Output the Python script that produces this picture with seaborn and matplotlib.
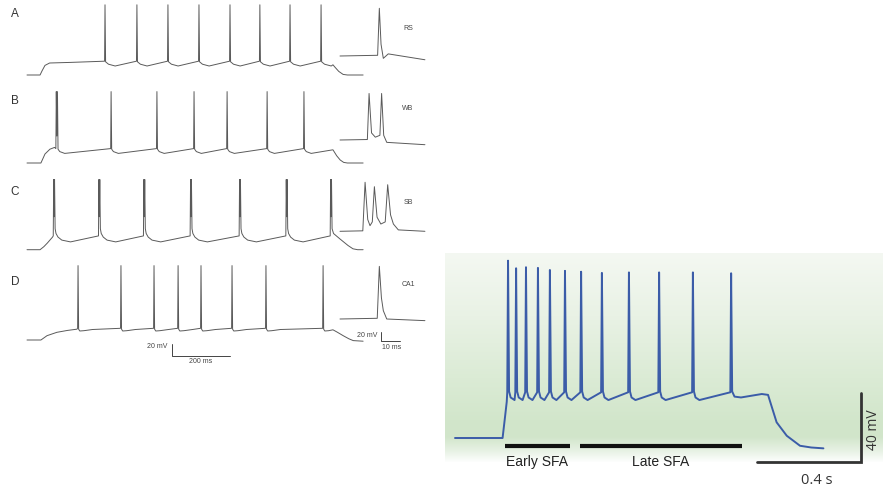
import numpy as np
import pandas as pd
import matplotlib.pyplot as plt
import seaborn as sns
from matplotlib.colors import LinearSegmentedColormap

W, H = 883, 489

# ---------------- data: time in ms, membrane potential in mV ----------------
# A  regular spiking (RS)
rs_onset_t = [0, 45, 52, 62, 78, 150]
rs_onset_v = [-65, -65, -58, -49, -45, -44]
rs_spikes = [269, 379, 486, 593, 700, 803, 907, 1014]
rs_peak = 52
rs_thr = -42
rs_after_dt = [2, 12, 35]
rs_after_v = [-43, -47, -50]
rs_off_t = [1016, 1026, 1049, 1055, 1062, 1075, 1090, 1105, 1159]
rs_off_v = [-43, -47, -50, -48, -52, -59, -64, -65, -65]

# B  weakly bursting (WB)
wb_onset_t = [0, 48, 62, 79, 95]
wb_onset_v = [-65, -65, -50, -42, -39]
wb_spikes = [101, 105, 290, 448, 576, 690, 828, 955]
wb_peak = 54
wb_thr = -41
wb_burst_v = -20
wb_after_dt = [2, 8, 25]
wb_after_v = [-42, -46, -49]
wb_off_t = [957, 963, 980, 1055, 1068, 1080, 1092, 1105, 1159]
wb_off_v = [-42, -46, -49, -43, -53, -60, -64, -65, -65]

# C  strongly bursting (SB)
sb_onset_t = [0, 45, 58, 70, 88]
sb_onset_v = [-65, -65, -60, -54, -44]
sb_spikes = [92, 95, 248, 251, 403, 406, 564, 567, 733, 736, 894, 897, 1047, 1050]
sb_peak = 52
sb_thr = -42
sb_burst_v = -10
sb_after_dt = [2, 5, 12, 25, 55]
sb_after_v = [-30, -38, -44, -49, -52]
sb_off_t = [1052, 1057, 1079, 1107, 1124, 1140, 1159]
sb_off_v = [-30, -38, -47, -58, -63.5, -65, -65]

# D  CA1 pyramidal cell
ca_onset_t = [0, 48, 69, 103, 140, 172]
ca_onset_v = [-65, -65, -57.8, -52.2, -49, -47]
ca_spikes = [176, 324, 438, 521, 600, 707, 824, 1021]
ca_peak = 59
ca_thr = -45.5
ca_after_dt = [2, 6, 20, 50]
ca_after_v = [-47, -50, -49.5, -47.5]
ca_off_t = [1023, 1027, 1040, 1055, 1070, 1091, 1110, 1125, 1159]
ca_off_v = [-47, -50, -49.5, -48, -52, -58, -63, -66, -67]

# insets (single action potentials / bursts)
rs_in_t = [0, 19.8, 20.7, 21.6, 22.8, 25.4, 44.7]
rs_in_v = [-65, -63.5, 36.5, -40, -70, -60.5, -73]
wb_in_t = [0, 14.4, 15.3, 16.6, 18.6, 21.0, 21.9, 23.0, 24.6, 44.7]
wb_in_v = [-65, -64, 34, -50, -59, -55, 34, -55, -70, -75]
sb_in_t = [0, 12.0, 13.2, 14.6, 15.8, 17.0, 18.1, 19.5, 21.5, 23.8, 25.1, 26.6, 28.1, 30.7, 44.7]
sb_in_v = [-65, -64, 39.3, -40, -53, -45, 29.9, -35, -49.5, -45, 34.1, -30, -49.5, -62, -65]
ca_in_t = [0, 19.6, 20.7, 21.8, 22.8, 24.6, 44.7]
ca_in_v = [-65, -63.5, 47, -20, -47.3, -65, -68.5]

# right: spike frequency adaptation
sfa_onset_t = [0, 183, 193, 199]
sfa_onset_v = [-65, -65, -52, -44]
sfa_spikes = [204, 235, 273, 319, 365, 423, 485, 565, 669, 785, 915, 1062]
sfa_peaks = [37.8, 33.4, 34.0, 33.6, 32.4, 31.9, 31.4, 30.7, 31.0, 31.0, 31.0, 30.5]
sfa_thr = -38.5
sfa_after_dt = [4, 10, 25]
sfa_after_v = [-38, -41.5, -43]
sfa_off_t = [1066, 1075, 1100, 1140, 1180, 1204, 1217, 1237, 1276, 1327, 1370, 1417]
sfa_off_v = [-38, -41, -41.5, -40.5, -39.5, -40, -46.3, -55.9, -63.7, -69.5, -70.5, -71]
early_sfa = (192, 442)
late_sfa = (481, 1104)


def spike_train(onset_t, onset_v, spikes, peak, thr, after_dt, after_v,
                off_t, off_v, rise=1.5, burst_v=None):
    peaks = np.broadcast_to(peak, len(spikes))
    t, v = list(onset_t), list(onset_v)
    for i, s in enumerate(spikes):
        in_burst = i > 0 and s - spikes[i - 1] < 10
        if not in_burst:
            t.append(s - rise)
            v.append(thr)
        t.append(s)
        v.append(peaks[i])
        if i + 1 == len(spikes):
            break
        nxt = spikes[i + 1]
        if nxt - s < 10:
            t.append((s + nxt) / 2)
            v.append(burst_v)
            continue
        for dt, dv in zip(after_dt, after_v):
            if s + dt < nxt - rise - 2:
                t.append(s + dt)
                v.append(dv)
    t += off_t
    v += off_v
    return pd.DataFrame({"t": t, "v": v})


sns.set_theme(style="white")
plt.rcParams["font.family"] = ["Liberation Sans", "DejaVu Sans"]
fig = plt.figure(figsize=(W / 100, H / 100), dpi=100)


def trace_axes(box, t0_px, base_px, px_ms, px_mv):
    x0, y0, x1, y1 = box
    ax = fig.add_axes([x0 / W, 1 - y1 / H, (x1 - x0) / W, (y1 - y0) / H])
    ax.set_axis_off()
    lims = ((x0 - t0_px) / px_ms, (x1 - t0_px) / px_ms,
            -65 - (y1 - base_px) / px_mv, -65 + (base_px - y0) / px_mv)
    return ax, lims


def draw(ax, lims, df, color="#5a5a5a", lw=0.7):
    sns.lineplot(data=df, x="t", y="v", ax=ax, sort=False, estimator=None,
                 color=color, linewidth=lw)
    ax.set_xlim(lims[0], lims[1])
    ax.set_ylim(lims[2], lims[3])
    ax.set_axis_off()


rows = [
    ("A", (0, 85), 76, 57, 14,
     spike_train(rs_onset_t, rs_onset_v, rs_spikes, rs_peak, rs_thr,
                 rs_after_dt, rs_after_v, rs_off_t, rs_off_v),
     pd.DataFrame({"t": rs_in_t, "v": rs_in_v}), "RS", 28),
    ("B", (85, 175), 164, 141, 100.5,
     spike_train(wb_onset_t, wb_onset_v, wb_spikes, wb_peak, wb_thr,
                 wb_after_dt, wb_after_v, wb_off_t, wb_off_v, burst_v=wb_burst_v),
     pd.DataFrame({"t": wb_in_t, "v": wb_in_v}), "WB", 109),
    ("C", (175, 255), 250.7, 232.3, 192,
     spike_train(sb_onset_t, sb_onset_v, sb_spikes, sb_peak, sb_thr,
                 sb_after_dt, sb_after_v, sb_off_t, sb_off_v, burst_v=sb_burst_v),
     pd.DataFrame({"t": sb_in_t, "v": sb_in_v}), "SB", 203),
    ("D", (255, 370), 341, 320, 282,
     spike_train(ca_onset_t, ca_onset_v, ca_spikes, ca_peak, ca_thr,
                 ca_after_dt, ca_after_v, ca_off_t, ca_off_v),
     pd.DataFrame({"t": ca_in_t, "v": ca_in_v}), "CA1", 284),
]

for letter, (top, bot), base, in_base, ly, main_df, in_df, name, ny in rows:
    ax, lims = trace_axes((20, top, 370, bot), 27, base, 0.29, 0.6)
    draw(ax, lims, main_df)
    axi, limi = trace_axes((335, top, 430, bot), 340, in_base, 1.9, 0.47)
    draw(axi, limi, in_df)
    fig.text(15 / W, 1 - ly / H, letter, fontsize=8.5, color="#333333",
             ha="center", va="center")
    fig.text(408 / W, 1 - ny / H, name, fontsize=5, color="#444444",
             ha="center", va="center")
    if letter == "D":
        # 20 mV / 200 ms scale bar
        ax.plot([500, 500, 700], [-71.7, -91.7, -91.7], color="#444444",
                lw=0.7, clip_on=False)
        ax.text(483, -74.5, "20 mV", fontsize=5, ha="right", va="center",
                color="#444444")
        ax.text(600, -98.5, "200 ms", fontsize=5, ha="center", va="center",
                color="#444444")
        # 20 mV / 10 ms scale bar of the inset
        axi.plot([21.6, 21.6, 31.6], [-91.8, -111.8, -111.8], color="#444444",
                 lw=0.7, clip_on=False)
        axi.text(19.5, -99, "20 mV", fontsize=5, ha="right", va="center",
                 color="#444444")
        axi.text(27.4, -124, "10 ms", fontsize=5, ha="center", va="center",
                 color="#444444")

# ---------------- right panel ----------------
axr, limr = trace_axes((445, 250, 883, 489), 455, 439, 0.26, 1.725)
green = LinearSegmentedColormap.from_list(
    "bg", [(0.0, "#f4f8f2"), (0.3, "#e9f2e5"), (0.6, "#dbebd5"),
           (0.8, "#d2e6cb"), (0.88, "#d1e5ca"), (0.95, "#e8f2e5"),
           (1.0, "#fdfefd")])
axr.imshow(np.linspace(0, 1, 256)[:, None], cmap=green, aspect="auto",
           extent=(limr[0], limr[1], -78.9, 41.7), origin="upper", zorder=0)
sfa_df = spike_train(sfa_onset_t, sfa_onset_v, sfa_spikes, sfa_peaks, sfa_thr,
                     sfa_after_dt, sfa_after_v, sfa_off_t, sfa_off_v, rise=3)
draw(axr, limr, sfa_df, color="#3b5ca8", lw=1.4)

for (a, b), label in [(early_sfa, "Early SFA"), (late_sfa, "Late SFA")]:
    axr.plot([a, b], [-69.5, -69.5], color="#111111", lw=3, solid_capstyle="butt")
    axr.text((a + b) / 2, -78.2, label, fontsize=10, ha="center", va="center",
             color="#222222")

axr.plot([1161.5, 1561.5, 1561.5], [-78.9, -78.9, -38.9], color="#333333",
         lw=2, solid_joinstyle="miter")
axr.text(1391, -88.8, "0.4 s", fontsize=10.5, ha="center", va="center",
         color="#333333", family=["Open Sans", "DejaVu Sans"])
axr.text(1608, -59.8, "40 mV", fontsize=10, ha="center", va="center",
         rotation=90, color="#333333", family=["Open Sans", "DejaVu Sans"])

fig.savefig("out.png", dpi=100)
